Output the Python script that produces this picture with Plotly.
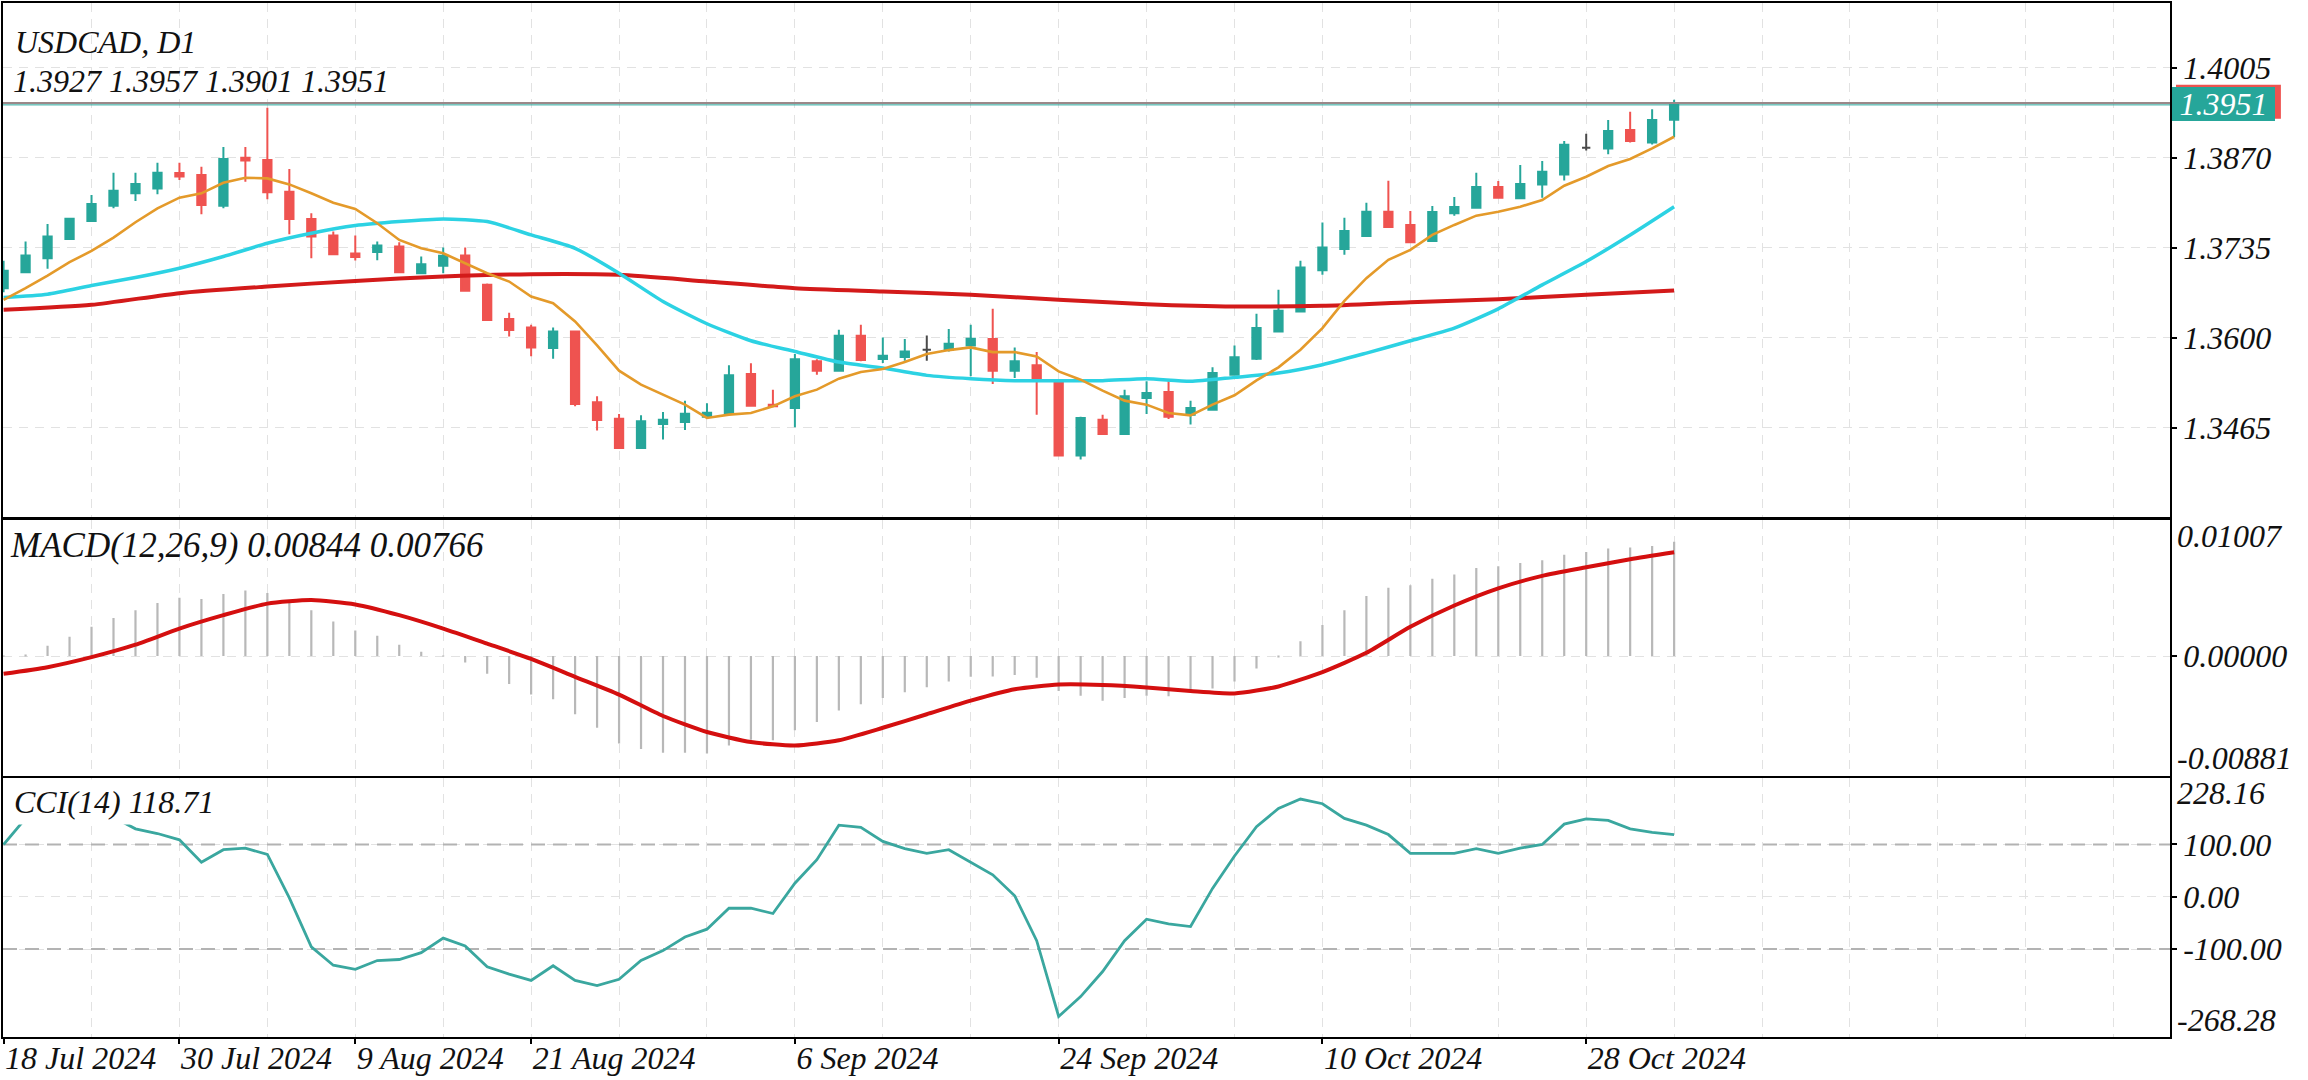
import plotly.graph_objects as go

# ---------------- data ----------------
symbol = "USDCAD, D1"

open_ = [1.36744, 1.36983, 1.37193, 1.37482, 1.37751, 1.37981, 1.38166, 1.38240, 1.38470, 1.38440,
         1.37981, 1.38700, 1.38665, 1.38191, 1.37781, 1.37532, 1.37262, 1.37287, 1.37367, 1.36968,
         1.37078, 1.37233, 1.36794, 1.36282, 1.36155, 1.35845, 1.36095, 1.35032, 1.34787, 1.34348,
         1.34707, 1.34737, 1.34817, 1.34867, 1.35456, 1.34997, 1.34947, 1.35646, 1.35506, 1.36030,
         1.35681, 1.35711, 1.35820, 1.35820, 1.35885, 1.35980, 1.35506, 1.35586, 1.35346, 1.34234,
         1.34772, 1.34558, 1.35097, 1.35187, 1.34847, 1.34922, 1.35446, 1.35686, 1.36095, 1.36394,
         1.37013, 1.37332, 1.37527, 1.37891, 1.37692, 1.37452, 1.37866, 1.37951, 1.38261, 1.38091,
         1.38300, 1.38450, 1.38849, 1.38839, 1.39114, 1.38929, 1.3927]
high = [1.37153, 1.37442, 1.37707, 1.37801, 1.38141, 1.38475, 1.38475, 1.38625, 1.38625, 1.38565,
        1.38859, 1.38859, 1.39448, 1.38530, 1.37866, 1.37592, 1.37532, 1.37442, 1.37432, 1.37218,
        1.37352, 1.37352, 1.36814, 1.36374, 1.36195, 1.36155, 1.36105, 1.35122, 1.34857, 1.34837,
        1.34887, 1.35057, 1.35017, 1.35586, 1.35616, 1.35222, 1.35756, 1.35676, 1.36120, 1.36195,
        1.36005, 1.35980, 1.36035, 1.36130, 1.36195, 1.36434, 1.35855, 1.35786, 1.35356, 1.34817,
        1.34847, 1.35222, 1.35346, 1.35346, 1.35057, 1.35556, 1.35885, 1.36359, 1.36719, 1.37153,
        1.37727, 1.37801, 1.38026, 1.38355, 1.37901, 1.37976, 1.38111, 1.38475, 1.38350, 1.38590,
        1.38650, 1.38949, 1.39059, 1.39264, 1.39388, 1.39428, 1.3957]
low = [1.36684, 1.36973, 1.37033, 1.37477, 1.37741, 1.37941, 1.38051, 1.38151, 1.38365, 1.37851,
       1.37941, 1.38340, 1.38076, 1.37552, 1.37193, 1.37243, 1.37158, 1.37163, 1.36973, 1.36958,
       1.36968, 1.36694, 1.36262, 1.36020, 1.35721, 1.35686, 1.34972, 1.34608, 1.34343, 1.34343,
       1.34473, 1.34618, 1.34797, 1.34847, 1.34977, 1.34957, 1.34658, 1.35446, 1.35496, 1.35646,
       1.35621, 1.35656, 1.35656, 1.35795, 1.35421, 1.35306, 1.35396, 1.34847, 1.34229, 1.34174,
       1.34548, 1.34548, 1.34857, 1.34782, 1.34698, 1.34917, 1.35436, 1.35666, 1.36085, 1.36384,
       1.36943, 1.37243, 1.37522, 1.37657, 1.37427, 1.37447, 1.37831, 1.37941, 1.38091, 1.38086,
       1.38101, 1.38360, 1.38809, 1.38750, 1.38929, 1.38899, 1.3901]
close = [1.37003, 1.37233, 1.37517, 1.37786, 1.38006, 1.38206, 1.38305, 1.38475, 1.38420, 1.37991,
         1.38680, 1.38660, 1.38181, 1.37781, 1.37517, 1.37252, 1.37212, 1.37382, 1.36983, 1.37103,
         1.37228, 1.36704, 1.36267, 1.36115, 1.35855, 1.36095, 1.35007, 1.34767, 1.34348, 1.34747,
         1.34772, 1.34862, 1.34877, 1.35436, 1.34982, 1.34972, 1.35676, 1.35506, 1.36030, 1.35666,
         1.35731, 1.35795, 1.35820, 1.35910, 1.35985, 1.35506, 1.35646, 1.35396, 1.34234, 1.34797,
         1.34558, 1.35122, 1.35172, 1.34817, 1.34947, 1.35471, 1.35706, 1.36145, 1.36404, 1.37053,
         1.37352, 1.37602, 1.37891, 1.37662, 1.37432, 1.37886, 1.37961, 1.38261, 1.38101, 1.38305,
         1.38490, 1.38894, 1.38849, 1.39099, 1.38949, 1.39264, 1.3951]

# moving averages (orange read at every bar, cyan every 2 bars, red every 4 bars)
ma_fast = [1.36569, 1.36744, 1.36933, 1.37133, 1.37302, 1.37502, 1.37732, 1.37941, 1.38101, 1.38166,
           1.38325, 1.38400, 1.38390, 1.38300, 1.38166, 1.38026, 1.37931, 1.37717, 1.37467, 1.37342,
           1.37267, 1.37118, 1.36968, 1.36843, 1.36619, 1.36519, 1.36245, 1.35885, 1.35506, 1.35296,
           1.35147, 1.34997, 1.34797, 1.34847, 1.34872, 1.34972, 1.35122, 1.35222, 1.35386, 1.35486,
           1.35531, 1.35636, 1.35756, 1.35815, 1.35855, 1.35785, 1.35785, 1.35721, 1.35496, 1.35371,
           1.35207, 1.35057, 1.34997, 1.34872, 1.34837, 1.34997, 1.35137, 1.35361, 1.35556, 1.35820,
           1.36145, 1.36554, 1.36893, 1.37168, 1.37317, 1.37542, 1.37692, 1.37831, 1.37891, 1.37966,
           1.38066, 1.38280, 1.38415, 1.38575, 1.38680, 1.38839, 1.39014]
ma_mid_bars = [0, 2, 4, 6, 8, 10, 12, 14, 16, 18, 20, 22, 24, 26, 28, 30, 32, 34, 36, 38,
               40, 42, 44, 46, 48, 50, 52, 54, 56, 58, 60, 62, 64, 66, 68, 70, 72, 74, 76]
ma_mid = [1.36604, 1.36654, 1.36783, 1.36903, 1.37043, 1.37218, 1.37417, 1.37567, 1.37682, 1.37742,
          1.37781, 1.37742, 1.37542, 1.37342, 1.36968, 1.36544, 1.36210, 1.35955, 1.35795, 1.35636,
          1.35546, 1.35436, 1.35386, 1.35356, 1.35356, 1.35356, 1.35386, 1.35346, 1.35406, 1.35471,
          1.35596, 1.35770, 1.35955, 1.36145, 1.36434, 1.36793, 1.37143, 1.37542, 1.37966]
ma_slow_bars = [0, 4, 8, 12, 16, 20, 24, 28, 32, 36, 40, 44, 48, 52, 56, 60, 64, 68, 72, 76]
ma_slow = [1.36419, 1.36494, 1.36669, 1.36768, 1.36853, 1.36918, 1.36953, 1.36943, 1.36843, 1.36744,
           1.36694, 1.36644, 1.36569, 1.36504, 1.36469, 1.36479, 1.36534, 1.36579, 1.36644, 1.36709]

# MACD(12,26,9): histogram = main, line = signal
macd_hist = [0.00003, 0.00005, 0.00076, 0.00142, 0.00216, 0.00281, 0.00339, 0.00392, 0.00431, 0.00421,
             0.00458, 0.00484, 0.00465, 0.00392, 0.00339, 0.00255, 0.00189, 0.00150, 0.00084, 0.00032,
             -0.00002, -0.00047, -0.00131, -0.00205, -0.00284, -0.00318, -0.00429, -0.00529, -0.00644, -0.00686,
             -0.00713, -0.00713, -0.00718, -0.00660, -0.00618, -0.00621, -0.00547, -0.00487, -0.00402, -0.00355,
             -0.00310, -0.00266, -0.00229, -0.00187, -0.00153, -0.00150, -0.00139, -0.00160, -0.00258, -0.00292,
             -0.00329, -0.00310, -0.00292, -0.00297, -0.00258, -0.00239, -0.00187, -0.00092, -0.00005, 0.00110,
             0.00229, 0.00339, 0.00444, 0.00505, 0.00523, 0.00571, 0.00602, 0.00650, 0.00663, 0.00686,
             0.00707, 0.00747, 0.00768, 0.00794, 0.00802, 0.00813, 0.00844]
macd_signal_bars = ma_mid_bars
macd_signal = [-0.00131, -0.00082, -0.00008, 0.00084, 0.00203, 0.00302, 0.00387, 0.00413, 0.00381, 0.00302,
               0.00203, 0.00092, -0.00021, -0.00153, -0.00284, -0.00442, -0.00560, -0.00634, -0.00660, -0.00621,
               -0.00529, -0.00429, -0.00329, -0.00245, -0.00210, -0.00213, -0.00231, -0.00258, -0.00276, -0.00224,
               -0.00118, 0.00024, 0.00216, 0.00373, 0.00500, 0.00592, 0.00655, 0.00715, 0.00766]

# CCI(14)
cci = [100, 150, 200, 205, 180, 152, 130, 121, 109, 66,
       90, 93, 81, -2, -96, -131, -139, -122, -120, -107,
       -79, -94, -134, -148, -160, -132, -160, -170, -158, -122,
       -103, -77, -62, -22, -22, -32, 26, 71, 137, 133,
       106, 92, 83, 90, 66, 42, 2, -84, -229, -191,
       -143, -84, -43, -52, -57, 16, 78, 134, 169, 187,
       178, 150, 137, 119, 83, 83, 83, 92, 83, 93,
       100, 139, 149, 146, 130, 123, 118.71]

tick_bars = [0, 8, 16, 24, 36, 48, 60, 72]
tick_labels = ["18 Jul 2024", "30 Jul 2024", "9 Aug 2024", "21 Aug 2024",
               "6 Sep 2024", "24 Sep 2024", "10 Oct 2024", "28 Oct 2024"]

price_ticks = [1.4005, 1.3870, 1.3735, 1.3600, 1.3465]
macd_ticks = [0.0]
cci_ticks = [100, 0, -100]
cci_levels = [100, -100]

price_range = [1.33312, 1.41020]
macd_range = [-0.00881, 0.01007]
cci_range = [-268.28, 228.16]
x_range = [-0.027, 98.56]

# ---------------- style ----------------
UP, DOWN, DOJI = "#26a69a", "#ef5350", "#4a4a4a"
ORANGE, CYAN, RED_MA = "#e49a2a", "#2cd2e3", "#d31a1a"
SIGNAL, HIST, CCI_C = "#d40f0f", "#b8b8b8", "#3aa79f"
GRID, LEVEL = "#e2e2e2", "#b3b3b3"
FAM = "Liberation Serif"
FONT = dict(family=FAM, size=32, color="#111111", style="italic")

W, H = 2308, 1080
ML, MR, MT, MB = 1, 138, 1, 43
plot_h = H - MT - MB
plot_w = W - ML - MR


def dom(top_px, bot_px):
    return [(H - MB - bot_px) / plot_h, (H - MB - top_px) / plot_h]


def py(px):
    return (H - MB - px) / plot_h


bars = list(range(len(close)))
is_doji = [o == c for o, c in zip(open_, close)]
not_doji = [not d for d in is_doji]


def pick(vals, keep):
    return [v if k else None for v, k in zip(vals, keep)]


fig = go.Figure()

fig.add_trace(go.Candlestick(
    x=bars, open=pick(open_, not_doji), high=pick(high, not_doji),
    low=pick(low, not_doji), close=pick(close, not_doji),
    increasing=dict(line=dict(color=UP, width=2), fillcolor=UP),
    decreasing=dict(line=dict(color=DOWN, width=2), fillcolor=DOWN),
    xaxis="x", yaxis="y", hoverinfo="skip"))
fig.add_trace(go.Candlestick(
    x=bars, open=pick(open_, is_doji), high=pick(high, is_doji),
    low=pick(low, is_doji), close=pick(close, is_doji),
    increasing=dict(line=dict(color=DOJI, width=2), fillcolor=DOJI),
    decreasing=dict(line=dict(color=DOJI, width=2), fillcolor=DOJI),
    xaxis="x", yaxis="y", hoverinfo="skip"))

fig.add_trace(go.Scatter(x=ma_slow_bars, y=ma_slow, mode="lines",
                         line=dict(color=RED_MA, width=4, shape="spline", smoothing=0.6),
                         xaxis="x", yaxis="y", hoverinfo="skip"))
fig.add_trace(go.Scatter(x=ma_mid_bars, y=ma_mid, mode="lines",
                         line=dict(color=CYAN, width=3.5, shape="spline", smoothing=0.6),
                         xaxis="x", yaxis="y", hoverinfo="skip"))
fig.add_trace(go.Scatter(x=bars, y=ma_fast, mode="lines", line=dict(color=ORANGE, width=2.6),
                         xaxis="x", yaxis="y", hoverinfo="skip"))

fig.add_trace(go.Bar(x=bars, y=macd_hist, width=0.1, marker=dict(color=HIST, line=dict(width=0)),
                     xaxis="x2", yaxis="y2", hoverinfo="skip"))
fig.add_trace(go.Scatter(x=macd_signal_bars, y=macd_signal, mode="lines",
                         line=dict(color=SIGNAL, width=4, shape="spline", smoothing=0.6),
                         xaxis="x2", yaxis="y2", hoverinfo="skip"))

# CCI level lines (drawn under the CCI line)
for lv in cci_levels:
    fig.add_trace(go.Scatter(x=x_range, y=[lv, lv], mode="lines",
                             line=dict(color=LEVEL, width=2, dash="14px,8px"),
                             xaxis="x3", yaxis="y3", hoverinfo="skip"))
fig.add_trace(go.Scatter(x=bars, y=cci, mode="lines", line=dict(color=CCI_C, width=2.8),
                         xaxis="x3", yaxis="y3", hoverinfo="skip"))

grid_kw = dict(showgrid=True, gridcolor=GRID, griddash="9px,7px", gridwidth=1)
xbase = dict(range=x_range, showline=True, mirror=True, linecolor="black", linewidth=1.5,
             zeroline=False, tickmode="array", tickvals=tick_bars, ticktext=tick_labels,
             minor=dict(tickmode="linear", tick0=0, dtick=4, ticks="", **grid_kw),
             fixedrange=True, **grid_kw)
ybase = dict(side="right", showline=True, mirror=True, linecolor="black", linewidth=1.5,
             zeroline=False, ticks="outside", ticklen=5, tickwidth=1.5, tickcolor="black",
             tickfont=FONT, tickmode="array", fixedrange=True, **grid_kw)

layout = dict(
    width=W, height=H, margin=dict(l=ML, r=MR, t=MT, b=MB),
    paper_bgcolor="white", plot_bgcolor="white", showlegend=False, boxgap=0.46,
    xaxis=dict(anchor="y", showticklabels=False, ticks="", rangeslider=dict(visible=False), **xbase),
    xaxis2=dict(anchor="y2", matches="x", showticklabels=False, ticks="", **xbase),
    xaxis3=dict(anchor="y3", matches="x", showticklabels=True, ticks="outside", ticklen=5,
                tickwidth=1.5, tickcolor="black", tickfont=FONT, ticklabelposition="outside right",
                ticklabelstandoff=-8, **xbase),
    yaxis=dict(domain=dom(1, 516), anchor="x", range=price_range, tickvals=price_ticks,
               ticktext=[f"{v:.4f}" for v in price_ticks], **ybase),
    yaxis2=dict(domain=dom(518.6, 775), anchor="x2", range=macd_range, tickvals=macd_ticks,
                ticktext=[f"{v:.5f}" for v in macd_ticks], **ybase),
    yaxis3=dict(domain=dom(777, 1037), anchor="x3", range=cci_range, tickvals=cci_ticks,
                ticktext=[f"{v:.2f}" for v in cci_ticks], **ybase),
)
fig.update_layout(**layout)

last = close[-1]
ppu = (516 - 1) / (price_range[1] - price_range[0])  # px per price unit

shapes = [
    dict(type="line", xref="x domain", x0=0, x1=1, yref="y", y0=last + 0.6 / ppu, y1=last + 0.6 / ppu,
         line=dict(color="#9a8889", width=2), layer="above"),
    dict(type="line", xref="x domain", x0=0, x1=1, yref="y", y0=last - 1.2 / ppu, y1=last - 1.2 / ppu,
         line=dict(color=UP, width=1), layer="above"),
    dict(type="rect", xref="paper", x0=1 + 6 / plot_w, x1=1 + 111 / plot_w, yref="y",
         y0=last - 15 / ppu, y1=last + 19 / ppu, fillcolor=DOWN, line=dict(width=0), layer="above"),
]
fig.update_layout(shapes=shapes)

ann = [
    dict(text=symbol, x=0, xref="paper", xanchor="left", xshift=10, y=py(40), yref="paper",
         yanchor="middle", showarrow=False, font=FONT),
    dict(text=f"{open_[-1]:.4f} {high[-1]:.4f} {low[-1]:.4f} {close[-1]:.4f}", x=0, xref="paper",
         xanchor="left", xshift=8, y=py(79), yref="paper", yanchor="middle", showarrow=False, font=FONT),
    dict(text=f"MACD(12,26,9) {macd_hist[-1]:.5f} {macd_signal[-1]:.5f}", x=0, xref="paper",
         xanchor="left", xshift=5, y=py(545), yref="paper", yanchor="middle", showarrow=False,
         font=dict(FONT, size=35)),
    dict(text=f"CCI(14) {cci[-1]:.2f}", x=0, xref="paper", xanchor="left", xshift=6, y=py(802),
         yref="paper", yanchor="middle", showarrow=False, font=FONT, bgcolor="white", borderpad=4),
    dict(text=f"{last:.4f}", x=1, xref="paper", xanchor="left", xshift=2, y=last, yref="y",
         yanchor="middle", showarrow=False, font=dict(family=FAM, size=32, color="white", style="italic"),
         bgcolor=UP, borderwidth=0, borderpad=1, width=101, height=32, align="center"),
    dict(text=f"{macd_range[1]:.5f}", x=1, xref="paper", xanchor="left", xshift=5, y=macd_range[1],
         yref="y2", yanchor="middle", yshift=-16, showarrow=False, font=FONT),
    dict(text=f"{macd_range[0]:.5f}", x=1, xref="paper", xanchor="left", xshift=5, y=macd_range[0],
         yref="y2", yanchor="middle", yshift=18, showarrow=False, font=FONT),
    dict(text=f"{cci_range[1]:.2f}", x=1, xref="paper", xanchor="left", xshift=5, y=cci_range[1],
         yref="y3", yanchor="middle", yshift=-15, showarrow=False, font=FONT),
    dict(text=f"{cci_range[0]:.2f}", x=1, xref="paper", xanchor="left", xshift=5, y=cci_range[0],
         yref="y3", yanchor="middle", yshift=17, showarrow=False, font=FONT),
]
fig.update_layout(annotations=ann)

fig.write_html("out.html", post_script="document.body.style.margin='0';")
